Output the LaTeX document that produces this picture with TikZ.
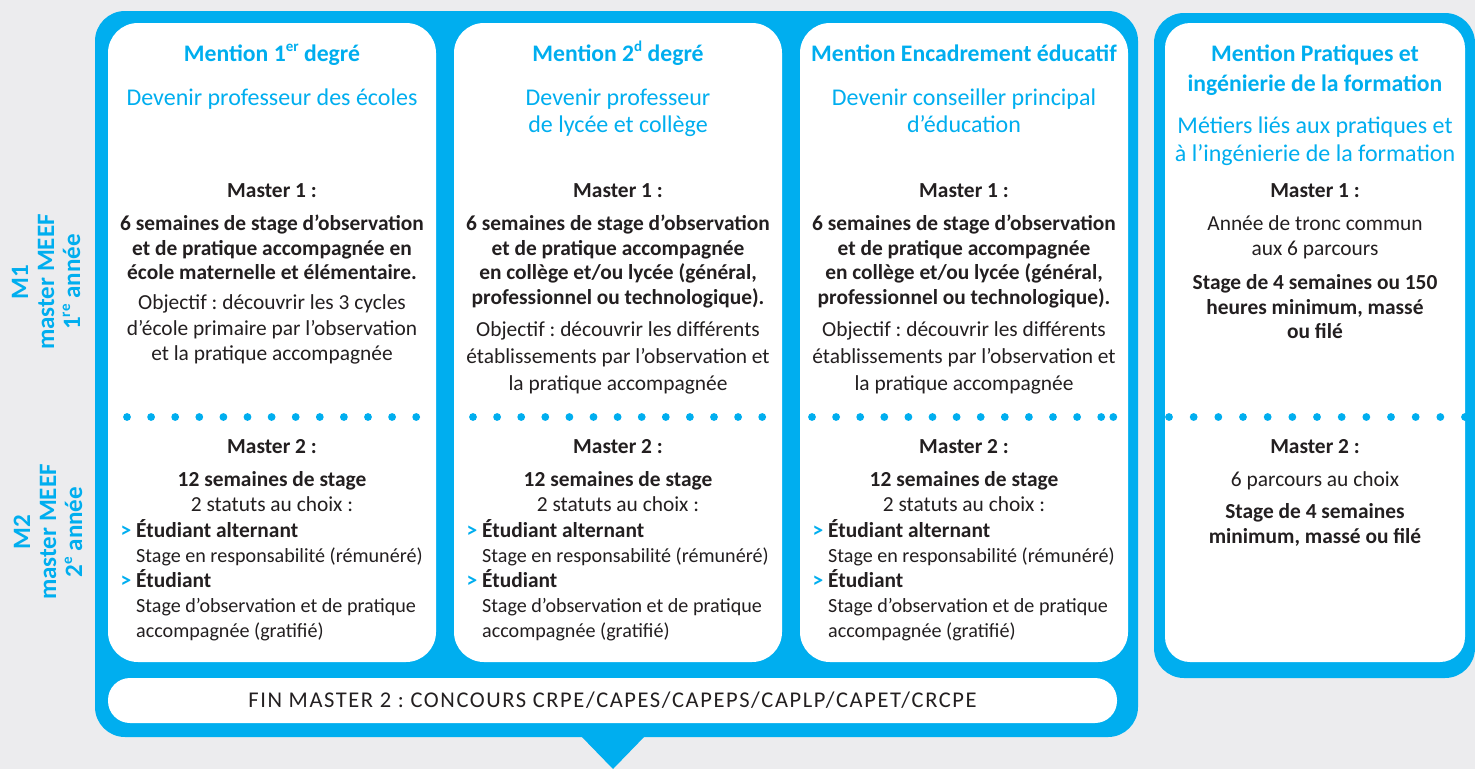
\documentclass[tikz,border=0pt]{standalone}
\usepackage{fontspec}
\setmainfont{Carlito}
\frenchspacing
\definecolor{meefblue}{HTML}{00AEEF}
\definecolor{bgcol}{HTML}{ECECEE}
\definecolor{ink}{HTML}{231F20}
\newcommand{\mgt}{\llap{\textcolor{meefblue}{\textbf{>}}\hspace{5pt}}}
\newcommand{\smtxt}[1]{{\fontsize{20.1}{25}\selectfont #1}}
\newcommand{\msup}[1]{\raisebox{0.4em}{\fontsize{15}{15}\selectfont #1}}
\begin{document}
\begin{tikzpicture}[x=1pt,y=-1pt,
  box/.style={inner sep=0pt, outer sep=0pt, anchor=north west},
  card/.style={box, fill=white, rounded corners=30pt},
  frame/.style={box, fill=meefblue, rounded corners=30pt},
  hd/.style={text=meefblue, font=\bfseries\fontsize{23.7}{30}\selectfont, align=center, inner sep=0pt, anchor=north},
  sub/.style={text=meefblue, font=\fontsize{24}{27}\selectfont, align=center, inner sep=0pt, anchor=north},
  body/.style={text=ink, font=\fontsize{21.4}{25}\selectfont, align=center, inner sep=0pt, anchor=north},
  bbody/.style={body, font=\bfseries\fontsize{21.4}{24.6}\selectfont},
  obj/.style={body, font=\fontsize{21.4}{25.5}\selectfont},
  side/.style={text=meefblue, font=\bfseries\fontsize{25}{26}\selectfont, align=center, inner sep=0pt, rotate=90},
  dot/.style={fill=meefblue}
]
\fill[bgcol] (0,0) rectangle (1475,769);
\useasboundingbox (0,0) rectangle (1475,769);

% frames
\node[frame, minimum width=1043pt, minimum height=726pt] (big) at (95,11) {};
\fill[meefblue] (580,735) -- (646,735) -- (613,769) -- cycle;
\node[frame, minimum width=321pt, minimum height=665pt] (rframe) at (1154,13) {};

% cards
\node[card, minimum width=328pt, minimum height=639pt] (c1) at (108,23) {};
\node[card, minimum width=328pt, minimum height=639pt] (c2) at (454,23) {};
\node[card, minimum width=328pt, minimum height=639pt] (c3) at (800,23) {};
\node[card, rounded corners=25pt, minimum width=300pt, minimum height=639pt] (c4) at (1165,23) {};
\node[card, rounded corners=22pt, minimum width=1009pt, minimum height=45pt] (bar) at (108,678) {};

% dots
\foreach \ox in {127,473,812} {
  \foreach \i in {0,...,12} \fill[dot] ({\ox+\i*24.1},417) circle (3.9pt);
}
\fill[dot] (1113.3,417) circle (3.9pt);
\foreach \i in {0,...,12} \fill[dot] ({1169+\i*24.667},417) circle (3.9pt);

% side labels
\node[side] (s1) at (46,282) {M1\\master MEEF\\1\msup{re} année};
\node[side] (s2) at (48,532) {M2\\master MEEF\\2\msup{e} année};

% card 1
\node[hd] (h1) at (272,40) {\strut Mention 1\msup{er} degré};
\node[sub] (t1) at (272,86.3) {\strut Devenir professeur des écoles};
\node[bbody] (m1a) at (272,180) {\strut Master 1 :};
\node[bbody] (p1a) at (272,213.3) {\strut 6 semaines de stage d’observation\\et de pratique accompagnée en\\école maternelle et élémentaire.};
\node[obj] (o1) at (272,291.6) {\strut Objectif : découvrir les 3 cycles\\d’école primaire par l’observation\\et la pratique accompagnée};
\node[bbody] (m1b) at (272,436) {\strut Master 2 :};
\node[body] (p1b) at (272,469) {\strut\textbf{12 semaines de stage}\\2 statuts au choix :};
\node[body, anchor=north west, align=left] (l1) at (136,519) {\strut\mgt\textbf{Étudiant alternant}\\\smtxt{Stage en responsabilité (rémunéré)}\\\mgt\textbf{Étudiant}\\\smtxt{Stage d’observation et de pratique}\\\smtxt{accompagnée (gratifié)}};

% card 2
\node[hd] (h2) at (618,40) {\strut Mention 2\msup{d} degré};
\node[sub] (t2) at (618,86.3) {\strut Devenir professeur\\de lycée et collège};
\node[bbody] (m2a) at (618,180) {\strut Master 1 :};
\node[bbody] (p2a) at (618,213.3) {\strut 6 semaines de stage d’observation\\et de pratique accompagnée\\en collège et/ou lycée (général,\\professionnel ou technologique).};
\node[obj, font=\fontsize{21.4}{27}\selectfont] (o2) at (618,317.7) {\strut Objectif : découvrir les différents\\établissements par l’observation et\\la pratique accompagnée};
\node[bbody] (m2b) at (618,436) {\strut Master 2 :};
\node[body] (p2b) at (618,469) {\strut\textbf{12 semaines de stage}\\2 statuts au choix :};
\node[body, anchor=north west, align=left] (l2) at (482,519) {\strut\mgt\textbf{Étudiant alternant}\\\smtxt{Stage en responsabilité (rémunéré)}\\\mgt\textbf{Étudiant}\\\smtxt{Stage d’observation et de pratique}\\\smtxt{accompagnée (gratifié)}};

% card 3
\node[hd] (h3) at (964,40) {\strut Mention Encadrement éducatif};
\node[sub] (t3) at (964,86.3) {\strut Devenir conseiller principal\\d’éducation};
\node[bbody] (m3a) at (964,180) {\strut Master 1 :};
\node[bbody] (p3a) at (964,213.3) {\strut 6 semaines de stage d’observation\\et de pratique accompagnée\\en collège et/ou lycée (général,\\professionnel ou technologique).};
\node[obj, font=\fontsize{21.4}{27}\selectfont] (o3) at (964,317.7) {\strut Objectif : découvrir les différents\\établissements par l’observation et\\la pratique accompagnée};
\node[bbody] (m3b) at (964,436) {\strut Master 2 :};
\node[body] (p3b) at (964,469) {\strut\textbf{12 semaines de stage}\\2 statuts au choix :};
\node[body, anchor=north west, align=left] (l3) at (828,519) {\strut\mgt\textbf{Étudiant alternant}\\\smtxt{Stage en responsabilité (rémunéré)}\\\mgt\textbf{Étudiant}\\\smtxt{Stage d’observation et de pratique}\\\smtxt{accompagnée (gratifié)}};

% card 4
\node[hd] (h4) at (1315,40) {\strut Mention Pratiques et\\ingénierie de la formation};
\node[sub, font=\fontsize{24}{28}\selectfont] (t4) at (1315,113.6) {\strut Métiers liés aux pratiques et\\à l’ingénierie de la formation};
\node[bbody] (m4a) at (1315,180) {\strut Master 1 :};
\node[body] (p4a) at (1315,213) {\strut Année de tronc commun\\aux 6 parcours};
\node[bbody, font=\bfseries\fontsize{21.4}{24.5}\selectfont] (q4a) at (1315,272.3) {\strut Stage de 4 semaines ou 150\\heures minimum, massé\\ou filé};
\node[bbody] (m4b) at (1315,436) {\strut Master 2 :};
\node[body] (p4b) at (1315,469) {\strut 6 parcours au choix};
\node[bbody, font=\bfseries\fontsize{21.4}{24.5}\selectfont] (q4b) at (1315,501.3) {\strut Stage de 4 semaines\\minimum, massé ou filé};

% bottom bar
\node[text=ink, font=\addfontfeature{LetterSpace=7}\fontsize{22.5}{26}\selectfont, inner sep=0pt, anchor=base] (fin) at (612.5,707.5) {FIN MASTER 2 : CONCOURS CRPE/CAPES/CAPEPS/CAPLP/CAPET/CRCPE};
\end{tikzpicture}
\end{document}
